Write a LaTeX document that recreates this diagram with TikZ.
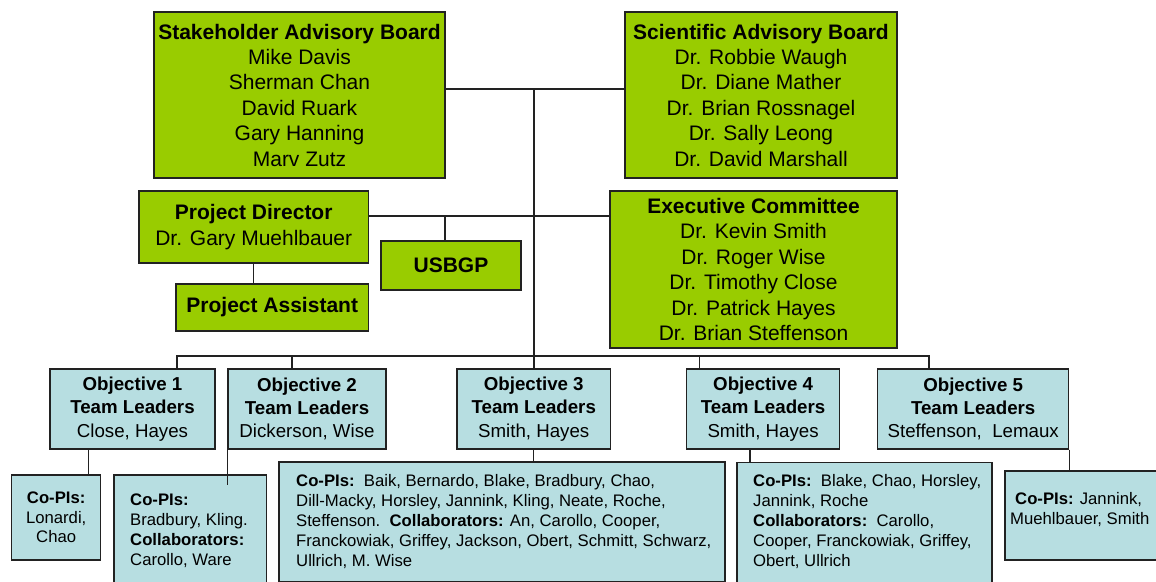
\documentclass[tikz,border=0pt]{standalone}
\usepackage{fontspec}
\setmainfont{Liberation Sans}
\definecolor{boardgreen}{HTML}{99CC00}
\definecolor{teamblue}{HTML}{B7DEE1}
\definecolor{edgegray}{HTML}{222222}
\begin{document}
\begin{tikzpicture}[x=1pt,y=-1pt,
  box/.style={draw=edgegray, line width=1.3pt, rectangle, inner sep=0pt, align=center},
  size/.style 2 args={minimum width=#1pt, minimum height=#2pt},
  greenbox/.style={box, fill=boardgreen, font=\fontsize{21}{25.4}\selectfont},
  objbox/.style={box, fill=teamblue, font=\fontsize{18.7}{23.3}\selectfont},
  copibox/.style={box, fill=teamblue, font=\fontsize{16.7}{19.6}\selectfont},
  copitext/.style={inner sep=0pt, anchor=west, align=left, font=\fontsize{16.7}{20}\selectfont},
  wire/.style={draw=edgegray, line width=1.2pt}
]
\useasboundingbox (0,0) rectangle (1156,581);
\clip (0,0) rectangle (1156,581);

% ---- boards and management (green) ----
\node[greenbox, size={291}{166}] (sab) at (299.5,95)
  {\textbf{Stakeholder Advisory Board}\\Mike Davis\\Sherman Chan\\David Ruark\\Gary Hanning\\Marv Zutz};
\node[greenbox, size={272}{166}] (sci) at (761,95)
  {\textbf{Scientific Advisory Board}\\Dr. Robbie Waugh\\Dr. Diane Mather\\Dr. Brian Rossnagel\\Dr. Sally Leong\\Dr. David Marshall};
\node[greenbox, size={229.5}{72}] (pd) at (253.75,227)
  {\textbf{Project Director}\\Dr. Gary Muehlbauer};
\node[greenbox, size={140}{49}] (usbgp) at (451,265.5) {\textbf{USBGP}};
\node[greenbox, size={192.5}{47}] (pa) at (272.25,307.5) {\textbf{Project Assistant}};
\node[greenbox, size={287}{157}] (exec) at (753.5,269.5)
  {\textbf{Executive Committee}\\Dr. Kevin Smith\\Dr. Roger Wise\\Dr. Timothy Close\\Dr. Patrick Hayes\\Dr. Brian Steffenson};

% ---- objective team leaders (blue) ----
\node[objbox, size={165}{80}] (obj1) at (132.5,409)
  {\textbf{Objective 1}\\\textbf{Team Leaders}\\Close, Hayes};
\node[objbox, size={158}{80}] (obj2) at (307,409)
  {\textbf{Objective 2}\\\textbf{Team Leaders}\\Dickerson, Wise};
\node[objbox, size={153.5}{80}] (obj3) at (533.75,409)
  {\textbf{Objective 3}\\\textbf{Team Leaders}\\Smith, Hayes};
\node[objbox, size={152.8}{80}] (obj4) at (763.1,409)
  {\textbf{Objective 4}\\\textbf{Team Leaders}\\Smith, Hayes};
\node[objbox, size={191}{80}] (obj5) at (973.2,409)
  {\textbf{Objective 5}\\\textbf{Team Leaders}\\Steffenson,\ \ Lemaux};

% ---- co-PI / collaborator boxes ----
\node[copibox, size={89}{85}] (cp1) at (56.2,517.5)
  {\textbf{Co-PIs:}\\Lonardi,\\Chao};
\node[copibox, size={152.7}{112}] (cp2) at (190.35,531) {};
\node[copibox, size={446}{120}] (cp3) at (502,522) {};
\node[copibox, size={255}{120}] (cp4) at (864.5,522.3) {};
\node[copibox, size={155}{89}] (cp5) at (1082.5,515.5) {};

\node[copitext] (cp2t) at (130,530.3)
  {\textbf{Co-PIs:}\\Bradbury, Kling.\\\textbf{Collaborators:}\\Carollo, Ware};
\node[copitext] (cp3t) at (296,522)
  {\textbf{Co-PIs:}\ \ Baik, Bernardo, Blake, Bradbury, Chao,\\
   Dill-Macky, Horsley, Jannink, Kling, Neate, Roche,\\
   Steffenson.\ \ \textbf{Collaborators:} An, Carollo, Cooper,\\
   Franckowiak, Griffey, Jackson, Obert, Schmitt, Schwarz,\\
   Ullrich, M. Wise};
\node[copitext] (cp4t) at (753,522)
  {\textbf{Co-PIs:}\ \ Blake, Chao, Horsley,\\
   Jannink, Roche\\
   \textbf{Collaborators:}\ \ Carollo,\\
   Cooper, Franckowiak, Griffey,\\
   Obert, Ullrich};
\node[copitext] (cp5t) at (1010,510)
  {\hspace*{5pt}\textbf{Co-PIs:} Jannink,\\Muehlbauer, Smith};

% ---- junction points of the connector tree ----
\coordinate (top) at (534,89);
\coordinate (mid) at (534,216);
\coordinate (bus) at (534,356);
\coordinate (s1) at (177,369);
\coordinate (s2) at (292,369);
\coordinate (s4) at (699.5,369);
\coordinate (s5) at (929,369);
\coordinate (us) at (445,241);
\coordinate (d1) at (88.5,449);
\coordinate (d4) at (750,449);

% ---- connectors ----
\draw[wire] (sab.east |- top) -- (sci.west |- top);
\draw[wire] (top) -- (top |- obj3.north);
\draw[wire] (pd.east |- mid) -- (exec.west |- mid);
\draw[wire] (us) -- (us |- mid);
\draw[wire] (pd.south) -- (pd.south |- pa.north);
\draw[wire] (s1) -- (s1 |- bus) -- (s5 |- bus) -- (s5);
\draw[wire] (s2) -- (s2 |- bus);
\draw[wire] (s4) -- (s4 |- bus);
\draw[wire] (d1) -- (d1 |- cp1.north);
\draw[wire] (obj2.south west) -- ++(0,35);
\draw[wire] (obj3.south) -- (obj3.south |- cp3.north);
\draw[wire] (d4) -- (d4 |- cp4.north);
\draw[wire] (obj5.south east) -- (obj5.south east |- cp5.north);
\end{tikzpicture}
\end{document}
